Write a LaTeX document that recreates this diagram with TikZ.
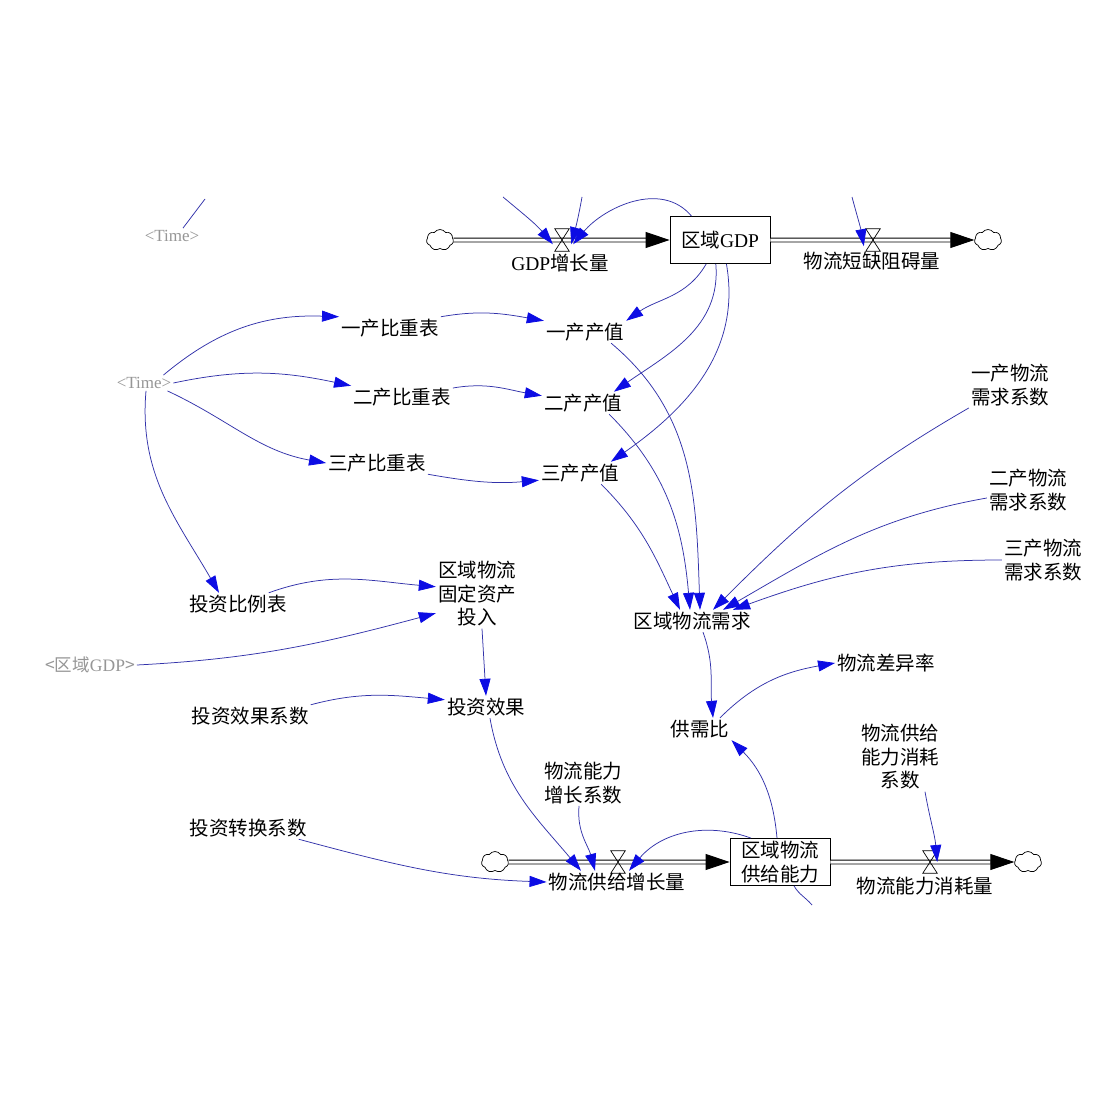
\documentclass[tikz,border=0pt]{standalone}
\usepackage{fontspec}
\setmainfont{Liberation Serif}
\newfontfamily\cjk{Noto Sans CJK SC}
\usetikzlibrary{arrows.meta,shapes.symbols,calc}
\definecolor{vsLink}{RGB}{50,50,170}
\definecolor{vsTip}{RGB}{12,12,228}
\definecolor{vsShadow}{RGB}{150,150,150}

\begin{document}
\begin{tikzpicture}[x=1pt, y=1pt,
  var/.style={font=\cjk\fontsize{19.5}{23.5}\selectfont, align=center, inner sep=2pt},
  ghost/.style={font=\fontsize{17}{20}\selectfont, text=vsShadow, inner sep=2pt},
  stock/.style={var, draw, line width=0.8pt, minimum width=100pt, minimum height=47pt},
  valve/.style={minimum width=14pt, minimum height=22pt, inner sep=0pt},
  hglass/.style={line width=0.7pt},
  sink/.style={cloud, cloud puffs=7, cloud puff arc=110, aspect=1.25, draw,
               line width=0.7pt, minimum width=27pt, minimum height=21pt, inner sep=0pt},
  pipe/.style={double, double distance=3pt, line width=0.9pt, -{Triangle[length=24pt,width=16pt]}},
  lnk/.style={vsLink, line width=0.75pt, -{Triangle[length=17pt,width=11pt,color=vsTip]}},
  tail/.style={vsLink, line width=0.75pt}]
  \fill[white] (0,0) rectangle (1102,-1102);
  \useasboundingbox (0,0) rectangle (1102,-1102);

  % stocks and flows
  \node[stock] (gdp) at (720,-240) {区域{\rmfamily GDP}};
  \node[sink] (cl1) at (440,-240) {};
  \node[sink] (cl2) at (988,-240) {};
  \node[valve] (v1) at (562,-240) {};
  \node[valve] (v2) at (873,-240) {};
  \node[var] (lv1) at (560,-263) {{\rmfamily GDP}增长量};
  \node[var] (lv2) at (872,-261) {物流短缺阻碍量};
  \node[stock] (sup) at (780,-862) {区域物流\\供给能力};
  \node[sink] (cl3) at (495,-862) {};
  \node[sink] (cl4) at (1028,-862) {};
  \node[valve] (v3) at (618,-862) {};
  \node[valve] (v4) at (930,-862) {};
  \node[var] (lv3) at (617,-882) {物流供给增长量};
  \node[var] (lv4) at (925,-886) {物流能力消耗量};
  \draw[pipe] (cl1) -- (gdp);
  \draw[pipe] (gdp) -- (cl2);
  \draw[pipe] (cl3) -- (sup);
  \draw[pipe] (sup) -- (cl4);
  \foreach \v in {v1,v2,v3,v4}
    \draw[hglass] (\v.north west) -- (\v.north east) -- (\v.south west) -- (\v.south east) -- cycle;

  % auxiliaries
  \node[ghost] (tmA) at (172,-236) {<Time>};
  \node[ghost] (tmB) at (144,-383) {<Time>};
  \node[ghost, font=\cjk\fontsize{17.5}{20}\selectfont] (sgdp) at (90,-665) {<区域{\rmfamily GDP}>};
  \node[var] (yb) at (390,-328) {一产比重表};
  \node[var] (eb) at (402,-397) {二产比重表};
  \node[var] (sb) at (377,-463) {三产比重表};
  \node[var] (yc) at (585,-332) {一产产值};
  \node[var] (ec) at (583,-403) {二产产值};
  \node[var] (sc) at (580,-473) {三产产值};
  \node[var] (yx) at (1010,-385) {一产物流\\需求系数};
  \node[var] (ex) at (1028,-490) {二产物流\\需求系数};
  \node[var] (sx) at (1043,-560) {三产物流\\需求系数};
  \node[var] (xq) at (692,-621) {区域物流需求};
  \node[var] (tzb) at (238,-604) {投资比例表};
  \node[var] (tr) at (477,-594) {区域物流\\固定资产\\投入};
  \node[var] (xgx) at (250,-716) {投资效果系数};
  \node[var] (xg) at (486,-707) {投资效果};
  \node[var] (cy) at (886,-663) {物流差异率};
  \node[var] (gx) at (700,-729) {供需比};
  \node[var] (xhx) at (900,-757) {物流供给\\能力消耗\\系数};
  \node[var] (nzx) at (583,-783) {物流能力\\增长系数};
  \node[var] (zhx) at (248,-828) {投资转换系数};

  % ends cut off by the frame
  \coordinate (eA) at (205,-199);
  \coordinate (eB) at (503,-197);
  \coordinate (eC) at (582,-197);
  \coordinate (eD) at (852,-197);
  \coordinate (eE) at (812,-905);

  % links
  \draw[tail] ([xshift=11pt]tmA.north) -- (eA);
  \draw[lnk] (eB) to[out=-40,in=130] ([yshift=7pt,xshift=-2pt]v1.south west);
  \draw[lnk] (eC) to[out=-100,in=75] ([yshift=7pt,xshift=2pt]v1.south east);
  \draw[lnk] (gdp.140) to[out=130,in=50] ([yshift=7pt,xshift=4pt]v1.south east);
  \draw[lnk] (eD) to[out=-75,in=100] ([yshift=5pt,xshift=-2pt]v2.south west);

  \draw[lnk] ([xshift=-10pt]tmB.north east) to[out=40,in=178] (yb.north west);
  \draw[lnk] (tmB.east) to[out=12,in=168] (eb.north west);
  \draw[lnk] ([xshift=-6pt]tmB.south east) to[out=-25,in=170] (sb.west);
  \draw[lnk] ([xshift=2pt]tmB.south) to[out=-95,in=120] ([xshift=-19pt]tzb.north);
  \draw[lnk] (yb.north east) to[out=10,in=170] (yc.north west);
  \draw[lnk] (eb.10) to[out=10,in=170] (ec.170);
  \draw[lnk] (sb.south east) to[out=-10,in=185] (sc.190);

  \draw[lnk] (gdp.-120) to[out=-120,in=35] (yc.north east);
  \draw[lnk] (gdp.-100) to[out=-85,in=35] (ec.20);
  \draw[lnk] (gdp.-75) to[out=-80,in=35] (sc.20);

  \draw[lnk] ([xshift=-15pt]yc.south east) to[out=-40,in=92] ([xshift=8pt]xq.north);
  \draw[lnk] ([xshift=-15pt]ec.south east) to[out=-45,in=95] ([xshift=-2pt]xq.north);
  \draw[lnk] ([xshift=-20pt]sc.south east) to[out=-45,in=115] ([xshift=-12pt]xq.north);
  \draw[lnk] (yx.south west) to[out=-150,in=45] ([xshift=21pt]xq.north);
  \draw[lnk] ([yshift=-8pt]ex.west) to[out=-170,in=30] ([xshift=31pt]xq.north);
  \draw[lnk] (sx.west) to[out=180,in=20] ([xshift=41pt]xq.north);

  \draw[lnk] (tzb.20) to[out=20,in=175] (tr.170);
  \draw[lnk] (sgdp.east) to[out=3,in=195] (tr.205);
  \draw[lnk] ([xshift=5pt]tr.south) -- (xg.north);
  \draw[lnk] (xgx.north east) to[out=15,in=175] (xg.170);

  \draw[lnk] ([xshift=11pt]xq.south) to[out=-70,in=95] ([xshift=13pt]gx.north);
  \draw[lnk] ([xshift=20pt]gx.north) to[out=45,in=190] (cy.west);
  \draw[lnk] ([xshift=-3pt]sup.north) to[out=95,in=-45] (gx.south east);

  \draw[lnk] ([xshift=4pt]xg.south) to[out=-80,in=130] ([xshift=-36pt]lv3.north);
  \draw[lnk] ([xshift=-4pt]nzx.south) to[out=-95,in=105] ([xshift=-22pt]lv3.north);
  \draw[lnk] ([xshift=-29pt]sup.north) to[out=160,in=50] ([xshift=12pt]lv3.north);
  \draw[lnk] ([xshift=-10pt]zhx.south east) to[out=-15,in=178] (lv3.west);
  \draw[lnk] ([xshift=25pt]xhx.south) to[out=-80,in=95] (v4.east);
  \draw[tail] ([xshift=14pt]sup.south) to[out=-60,in=130] (eE);
\end{tikzpicture}
\end{document}
